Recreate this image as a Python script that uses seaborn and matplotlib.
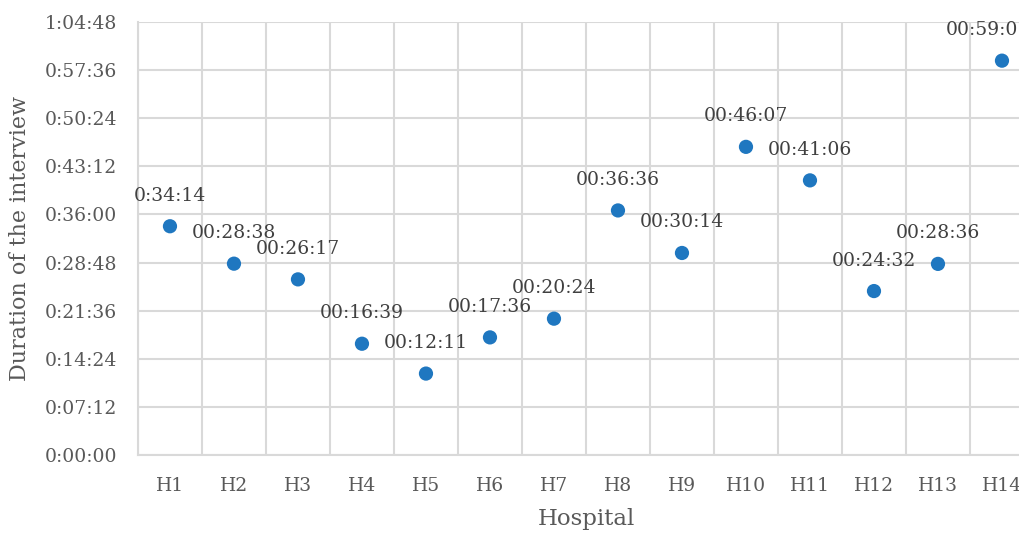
import matplotlib
matplotlib.use("Agg")
import matplotlib.pyplot as plt
import seaborn as sns
import pandas as pd
from matplotlib.ticker import FuncFormatter, MultipleLocator

hospitals = ["H1", "H2", "H3", "H4", "H5", "H6", "H7",
             "H8", "H9", "H10", "H11", "H12", "H13", "H14"]
durations = ["0:34:14", "00:28:38", "00:26:17", "00:16:39", "00:12:11", "00:17:36", "00:20:24",
             "00:36:36", "00:30:14", "00:46:07", "00:41:06", "00:24:32", "00:28:36", "00:59:01"]


def to_sec(s):
    h, m, sec = [int(p) for p in s.split(":")]
    return h * 3600 + m * 60 + sec


df = pd.DataFrame({"Hospital": hospitals,
                   "seconds": [to_sec(d) for d in durations],
                   "label": durations})

sns.set_style("white")
plt.rcParams["font.family"] = ["DejaVu Serif"]

fig = plt.figure(figsize=(10.19, 5.41), dpi=100)
# axes run past the right edge, like the cropped original
ax = fig.add_axes([0.1354, 0.159, 0.8793, 0.8003])

sns.scatterplot(data=df, x="Hospital", y="seconds", ax=ax, color="#1f77c0",
                s=105, edgecolor="none", zorder=3, clip_on=False)

# labels sit above each point
for i, row in df.iterrows():
    dx = -10 if i == len(df) - 1 else 0
    ax.annotate(row["label"], (i, row["seconds"]), xytext=(dx, 22),
                textcoords="offset points", ha="center", va="center",
                fontsize=13.5, color="#404040", annotation_clip=False)

step = 432
ax.set_ylim(0, 9 * step)
ax.yaxis.set_major_locator(MultipleLocator(step))
ax.yaxis.set_major_formatter(FuncFormatter(
    lambda v, p: "%d:%02d:%02d" % (int(v) // 3600, (int(v) % 3600) // 60, int(v) % 60)))

ax.set_xlim(-0.5, len(hospitals) - 0.5)
ax.set_xticks(range(len(hospitals)))
ax.set_xticks([i - 0.5 for i in range(len(hospitals) + 1)], minor=True)

grid_c = "#d9d9d9"
ax.grid(True, axis="y", which="major", color=grid_c, linewidth=1.5, zorder=0)
ax.grid(True, axis="x", which="minor", color=grid_c, linewidth=1.5, zorder=0)
ax.grid(False, axis="x", which="major")
for side in ["top", "right"]:
    ax.spines[side].set_visible(False)
for side in ["left", "bottom"]:
    ax.spines[side].set_color(grid_c)
    ax.spines[side].set_linewidth(1.5)

ax.tick_params(axis="both", which="both", length=0, labelsize=13.5, labelcolor="#595959")
ax.tick_params(axis="y", pad=15)
ax.tick_params(axis="x", pad=16)

ax.set_xlabel("Hospital", fontsize=16.5, color="#595959", labelpad=9)
ax.set_ylabel("Duration of the interview", fontsize=16, color="#595959", labelpad=10)

fig.savefig("out.png", dpi=100)
